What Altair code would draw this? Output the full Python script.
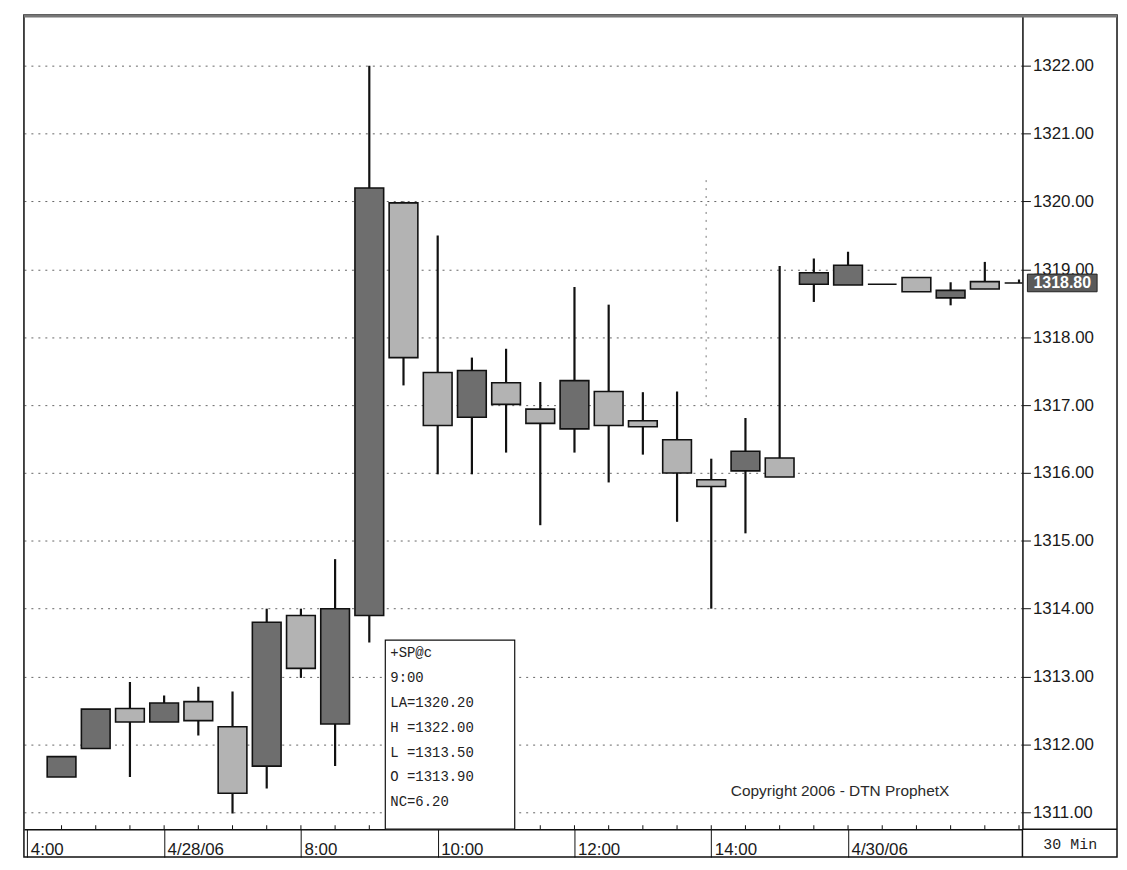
import altair as alt
import pandas as pd

# ---- data (30-minute bars) ----
bar_index = list(range(29))
opens = [1311.52, 1311.94, 1312.53, 1312.33, 1312.63, 1312.26, 1311.68, 1313.90, 1312.30, 1313.90,
         1319.98, 1317.48, 1316.82, 1317.33, 1316.94, 1316.65, 1317.20, 1316.77, 1316.49, 1315.90,
         1316.03, 1316.22, 1318.78, 1318.77, 1318.78, 1318.88, 1318.58, 1318.82, 1318.80]
highs = [1311.82, 1312.52, 1312.92, 1312.72, 1312.85, 1312.78, 1314.00, 1314.00, 1314.73, 1322.00,
         1320.00, 1319.50, 1317.70, 1317.83, 1317.34, 1318.74, 1318.48, 1317.19, 1317.20, 1316.21,
         1316.81, 1319.05, 1319.16, 1319.26, 1318.78, 1318.88, 1318.81, 1319.11, 1318.85]
lows = [1311.52, 1311.94, 1311.52, 1312.33, 1312.13, 1310.98, 1311.35, 1312.98, 1311.68, 1313.50,
        1317.29, 1315.98, 1315.98, 1316.30, 1315.23, 1316.30, 1315.86, 1316.27, 1315.28, 1314.00,
        1315.11, 1315.94, 1318.52, 1318.77, 1318.78, 1318.67, 1318.47, 1318.71, 1318.80]
closes = [1311.82, 1312.52, 1312.33, 1312.61, 1312.35, 1311.28, 1313.80, 1313.12, 1314.00, 1320.20,
          1317.70, 1316.70, 1317.51, 1317.01, 1316.73, 1317.36, 1316.70, 1316.68, 1316.00, 1315.80,
          1316.32, 1315.94, 1318.95, 1319.06, 1318.78, 1318.67, 1318.69, 1318.71, 1318.80]

x_label_pos = [-1, 3, 7, 11, 15, 19, 23]
x_labels = ["4:00", "4/28/06", "8:00", "10:00", "12:00", "14:00", "4/30/06"]
y_ticks = [1311, 1312, 1313, 1314, 1315, 1316, 1317, 1318, 1319, 1320, 1321, 1322]

last_price = [1318.80]
last_text = ["1318.80"]
cursor_x = [18.85]
cursor_top = [1320.4]
cursor_bottom = [1317.0]

info_lines = ["+SP@c", "9:00", "LA=1320.20", "H =1322.00", "L =1313.50", "O =1313.90", "NC=6.20"]
copyright_text = "Copyright 2006 - DTN ProphetX"
period_text = "30 Min"

# ---- layout ----
W, H = 1003, 818
STRIP = 28
RCOL = 95

df = pd.DataFrame({"i": bar_index, "open": opens, "high": highs, "low": lows, "close": closes})
one = pd.DataFrame({"a": [0]})

xscale = alt.Scale(domain=[-1.1, 28.1], nice=False, zero=False)
yscale = alt.Scale(domain=[1310.75, 1322.75], nice=False, zero=False)

label_expr = " : ".join(
    f"datum.value == {p} ? '{t}'" for p, t in zip(x_label_pos, x_labels)
) + " : ''"

x_axis = alt.Axis(
    orient="bottom", values=x_label_pos, labelExpr=label_expr, tickSize=STRIP,
    tickColor="#111", tickWidth=1, domainColor="#111", domainWidth=1.5,
    labelAlign="left", labelBaseline="alphabetic", labelPadding=-3, labelOffset=3,
    labelFont="Liberation Sans", labelFontSize=17, labelColor="#1a1a1a",
    labelFlush=False, labelOverlap=False, grid=False, title=None,
)
y_axis = alt.Axis(
    orient="right", values=y_ticks, format=".2f", tickSize=8, tickColor="#111",
    domainColor="#111", domainWidth=1.5, labelPadding=2,
    labelFont="Liberation Sans", labelFontSize=17, labelColor="#1a1a1a",
    grid=True, gridDash=[2, 5], gridColor="#666", gridWidth=1, title=None,
)

X = lambda f: alt.X(f, type="quantitative", scale=xscale, axis=x_axis)
Y = lambda f: alt.Y(f, type="quantitative", scale=yscale, axis=y_axis)

base = alt.Chart(df)

wicks = base.mark_rule(color="#111", strokeWidth=2.2, clip=True).encode(
    x=X("i"), y=Y("low"), y2="high"
)

bodies = base.transform_calculate(
    xl="datum.i - 0.42", xr="datum.i + 0.42",
    dir="datum.close > datum.open ? 'up' : (datum.close < datum.open ? 'down' : 'flat')",
).mark_rect(stroke="#111", strokeWidth=1.6, clip=True).encode(
    x=X("xl"), x2="xr", y=Y("open"), y2="close",
    color=alt.Color("dir:N", scale=alt.Scale(domain=["up", "down", "flat"],
                                             range=["#6e6e6e", "#b3b3b3", "#111111"]), legend=None),
)

minor_ticks = base.mark_rule(color="#111", strokeWidth=1).encode(
    x=X("i"), y=alt.value(H - 4), y2=alt.value(H)
)

cursor = alt.Chart(pd.DataFrame({"cx": cursor_x, "ct": cursor_top, "cb": cursor_bottom})).mark_rule(
    color="#777", strokeDash=[2, 6], strokeWidth=1
).encode(x=X("cx"), y=Y("cb"), y2="ct")

info_box = alt.Chart(one).mark_rect(fill="white", stroke="#111", strokeWidth=1.2).encode(
    x=alt.value(363), x2=alt.value(493), y=alt.value(628), y2=alt.value(H)
)
info_text = alt.Chart(one).mark_text(
    align="left", baseline="alphabetic", font="Liberation Mono", fontSize=14,
    lineHeight=25, color="#222"
).encode(x=alt.value(368), y=alt.value(645), text=alt.value(info_lines))

copyright = alt.Chart(one).mark_text(
    align="left", baseline="alphabetic", font="Liberation Sans", fontSize=15.5, color="#2a2a2a"
).encode(x=alt.value(710), y=alt.value(785), text=alt.value(copyright_text))

lp = pd.DataFrame({"p": last_price, "t": last_text})
last_box = alt.Chart(lp).transform_calculate(
    p1="datum.p - 0.13", p2="datum.p + 0.13"
).mark_rect(fill="#5a5a5a", stroke="#222", strokeWidth=1).encode(
    x=alt.value(W + 5), x2=alt.value(W + 75), y=Y("p1"), y2="p2"
)
last_label = alt.Chart(lp).mark_text(
    align="center", baseline="middle", font="Liberation Sans", fontSize=16,
    fontWeight="bold", color="white"
).encode(x=alt.value(W + 40), y=Y("p"), text="t:N")

frame = alt.Chart(one).mark_rect(filled=False, stroke="#111", strokeWidth=1.5).encode(
    x=alt.value(0), x2=alt.value(W + RCOL), y=alt.value(0), y2=alt.value(H + STRIP)
)
top_border = alt.Chart(one).mark_rule(color="#777", strokeWidth=3).encode(
    x=alt.value(0), x2=alt.value(W + RCOL), y=alt.value(1)
)
box_left = alt.Chart(one).mark_rule(color="#111", strokeWidth=1.5).encode(
    x=alt.value(W), y=alt.value(H), y2=alt.value(H + STRIP)
)
box_top = alt.Chart(one).mark_rule(color="#111", strokeWidth=1.5).encode(
    x=alt.value(W), x2=alt.value(W + RCOL), y=alt.value(H)
)
period = alt.Chart(one).mark_text(
    align="center", baseline="alphabetic", font="Liberation Mono", fontSize=15, color="#222"
).encode(x=alt.value(W + 48), y=alt.value(H + 20), text=alt.value(period_text))

chart = alt.layer(
    wicks, bodies, minor_ticks, cursor, info_box, info_text, copyright,
    last_box, last_label, frame, top_border, box_left, box_top, period
).properties(
    width=W, height=H,
    padding={"left": 14, "top": 4, "right": 0, "bottom": 0},
).configure_view(stroke=None).configure(background="white")

chart.save("out.html", embed_options={"renderer": "svg", "actions": False})
